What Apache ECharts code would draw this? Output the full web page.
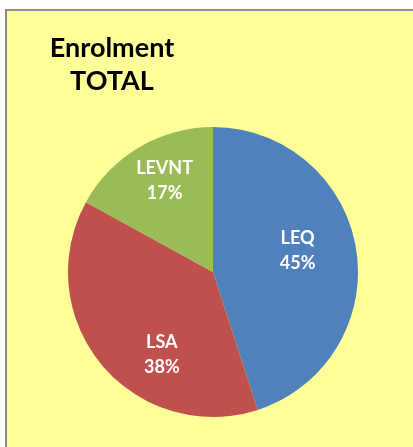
<!DOCTYPE html>
<html>
<head>
<meta charset="utf-8">
<script src="https://cdn.jsdelivr.net/npm/echarts@6/dist/echarts.min.js"></script>
<style>
  html, body { margin: 0; padding: 0; background: #fff; }
  #main { width: 413px; height: 447px; }
</style>
</head>
<body>
<div id="main"></div>
<script>
// data
const categories = ["LEQ", "LSA", "LEVNT"];
const shares = [45, 38, 17];
const colors = ["#4F81BD", "#C0504D", "#9BBB59"];
// nudges so the labels sit where Excel put them
const labelOffsets = [[10, -10], [7, 35], [-10, -26]];

const chart = echarts.init(document.getElementById("main"));

const option = {
  backgroundColor: "#ffffff",
  animation: false,
  graphic: [
    {
      type: "rect",
      z: -10,
      shape: { x: 6, y: 10, width: 420, height: 450 },
      style: { fill: "#FFFF99", stroke: "#8c8c8c", lineWidth: 2 }
    }
  ],
  title: {
    text: "Enrolment\nTOTAL",
    left: 107,
    top: 27,
    textAlign: "center",
    textStyle: {
      fontFamily: "Lato",
      fontWeight: "bold",
      fontSize: 27,
      lineHeight: 33,
      color: "#000"
    }
  },
  series: [
    {
      type: "pie",
      center: [213, 272],
      radius: 145,
      startAngle: 90,
      clockwise: true,
      label: {
        show: true,
        position: "inside",
        formatter: "{b}\n{d}%",
        color: "#fff",
        fontFamily: "Lato",
        fontWeight: "bold",
        fontSize: 18,
        lineHeight: 25
      },
      labelLine: { show: false },
      itemStyle: { borderWidth: 0 },
      emphasis: { disabled: true },
      data: categories.map((name, i) => ({
        name: name,
        value: shares[i],
        itemStyle: { color: colors[i] },
        label: { offset: labelOffsets[i] }
      }))
    }
  ]
};

chart.setOption(option);
</script>
</body>
</html>
